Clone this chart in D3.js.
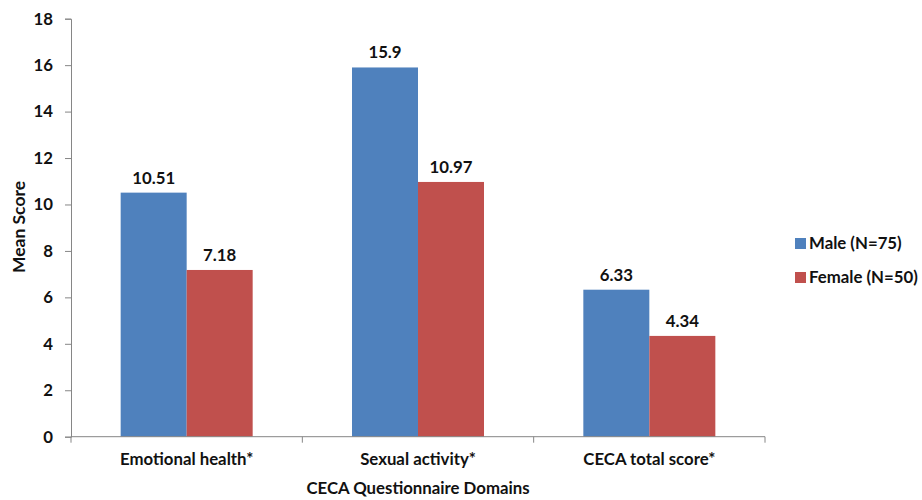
<!DOCTYPE html>
<html><head><meta charset="utf-8">
<script src="https://cdn.jsdelivr.net/npm/d3@7"></script>
<style>body{margin:0;background:#fff;} text{font-family:Lato,"Open Sans",sans-serif;font-weight:bold;fill:#111;}</style>
</head><body>
<svg id="c" width="922" height="500"></svg>
<script>
const categories = ["Emotional health*", "Sexual activity*", "CECA total score*"];
const seriesNames = ["Male (N=75)", "Female (N=50)"];
const maleValues = [10.51, 15.9, 6.33];
const femaleValues = [7.18, 10.97, 4.34];
const yTicks = [0, 2, 4, 6, 8, 10, 12, 14, 16, 18];
const colors = ["#4F81BD", "#C0504D"];

(function(){
const svg = d3.select("#c");
const pLeft = 71, pRight = 765, pTop = 18.7, pBottom = 436.7;
const fs = 16.8;
const x = d3.scaleBand().domain(categories).range([pLeft, pRight]).paddingInner(0).paddingOuter(0);
const inner = d3.scaleBand().domain(seriesNames).range([0, 132]);
const y = d3.scaleLinear().domain([0, 18]).range([pBottom, pTop]);
const groupOff = (x.bandwidth() - 132) / 2;

const series = [maleValues, femaleValues];
series.forEach((vals, si) => {
  const g = svg.append("g");
  g.selectAll("rect").data(vals).join("rect")
    .attr("x", (d, i) => x(categories[i]) + groupOff + inner(seriesNames[si]))
    .attr("y", d => y(d))
    .attr("width", inner.bandwidth())
    .attr("height", d => y(0) - y(d))
    .attr("fill", colors[si]);
  g.selectAll("text").data(vals).join("text")
    .attr("x", (d, i) => x(categories[i]) + groupOff + inner(seriesNames[si]) + inner.bandwidth() / 2)
    .attr("y", d => y(d) - 9)
    .attr("text-anchor", "middle")
    .attr("font-size", fs)
    .text(d => d);
});

const yAxis = svg.append("g").attr("transform", `translate(${pLeft},0)`)
  .call(d3.axisLeft(y).tickValues(yTicks).tickSize(6).tickPadding(12));
yAxis.select(".domain").attr("stroke", "#868686");
yAxis.selectAll(".tick line").attr("stroke", "#868686");
yAxis.selectAll(".tick text").attr("font-size", fs).attr("fill", "#111").attr("font-family", "Lato").attr("font-weight", "bold");

const xAxis = svg.append("g").attr("transform", `translate(0,${pBottom})`)
  .call(d3.axisBottom(x).tickSize(0).tickPadding(16));
xAxis.select(".domain").attr("stroke", "#868686").attr("d", `M${pLeft},0H${pRight}`);
xAxis.selectAll(".tick text").attr("font-size", fs).attr("fill", "#111").attr("font-family", "Lato").attr("font-weight", "bold");
const seps = categories.map(c => x(c)).concat([pRight]);
svg.append("g").selectAll("line").data(seps).join("line")
  .attr("x1", d => d).attr("x2", d => d)
  .attr("y1", pBottom).attr("y2", pBottom + 6)
  .attr("stroke", "#868686");

svg.append("text").attr("x", 418).attr("y", 494).attr("text-anchor", "middle").attr("font-size", fs)
  .text("CECA Questionnaire Domains");
svg.append("text").attr("transform", "translate(25,227) rotate(-90)").attr("text-anchor", "middle").attr("font-size", 17.5)
  .text("Mean Score");

const leg = svg.append("g");
seriesNames.forEach((n, i) => {
  leg.append("rect").attr("x", 795).attr("y", 238 + i * 34).attr("width", 11).attr("height", 11).attr("fill", colors[i]);
  leg.append("text").attr("x", 809).attr("y", 249 + i * 34).attr("font-size", fs).text(n);
});
})();
</script>
</body></html>
